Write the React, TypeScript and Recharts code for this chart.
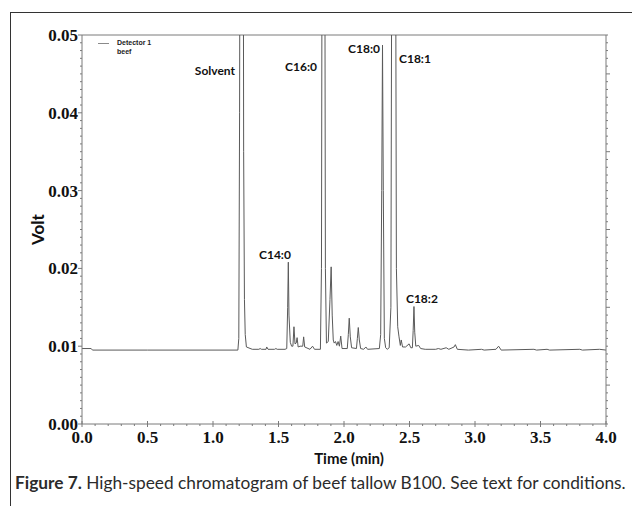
import React from 'react';
import { LineChart, Line, XAxis, YAxis, ReferenceLine, ReferenceDot, Legend, Label } from 'recharts';

// chromatogram trace (time in min, signal in volt)
const timeMin = [
  0.0, 0.07, 0.08, 0.5, 1.0, 1.19,
  1.197, 1.203, 1.207, 1.23, 1.234, 1.24, 1.246, 1.255, 1.3,
  1.35, 1.36, 1.37, 1.405, 1.41, 1.42, 1.47, 1.48, 1.49, 1.55,
  1.563, 1.57, 1.575, 1.58, 1.59, 1.6, 1.61, 1.618, 1.626, 1.635, 1.642, 1.65,
  1.665, 1.685, 1.692, 1.7, 1.74, 1.76, 1.775, 1.82,
  1.828, 1.834, 1.852, 1.858, 1.866, 1.88, 1.893, 1.902, 1.91, 1.918,
  1.925, 1.935, 1.945, 1.955, 1.965, 1.975, 1.985,
  2.025, 2.033, 2.04, 2.048, 2.058, 2.095, 2.102, 2.109, 2.117, 2.127,
  2.15, 2.167, 2.18, 2.27,
  2.28, 2.288, 2.294, 2.3, 2.308, 2.318, 2.33, 2.345,
  2.358, 2.367, 2.392, 2.4, 2.41,
  2.42, 2.43, 2.437, 2.447, 2.47, 2.497, 2.51,
  2.522, 2.528, 2.534, 2.54, 2.548, 2.57, 2.585, 2.62,
  2.7, 2.72, 2.74, 2.78, 2.8, 2.84, 2.85, 2.865, 2.95,
  3.05, 3.07, 3.16, 3.18, 3.2, 3.45, 3.47, 3.55, 3.57, 3.8, 3.82, 3.95, 4.0,
];

const volts = [
  0.0097, 0.0097, 0.0095, 0.0095, 0.0095, 0.0095,
  0.011, 0.04, 0.08, 0.08, 0.035, 0.016, 0.0115, 0.0099, 0.0096,
  0.0096, 0.0097, 0.0096, 0.0096, 0.0099, 0.0096, 0.0096, 0.0097, 0.0096, 0.0096,
  0.0097, 0.015, 0.0208, 0.014, 0.0105, 0.01, 0.01, 0.0125, 0.0103, 0.0104, 0.0111, 0.0099,
  0.01, 0.01, 0.0112, 0.0099, 0.0096, 0.01, 0.0096, 0.0096,
  0.02, 0.08, 0.08, 0.02, 0.0104, 0.0106, 0.016, 0.0202, 0.014, 0.0108,
  0.0104, 0.0106, 0.0101, 0.0106, 0.01, 0.0113, 0.0097,
  0.0097, 0.0115, 0.0136, 0.0112, 0.0098, 0.0097, 0.011, 0.0124, 0.0108, 0.0097,
  0.0096, 0.0099, 0.0096, 0.0097,
  0.0115, 0.03, 0.0487, 0.03, 0.011, 0.0098, 0.0096, 0.0098,
  0.015, 0.08, 0.08, 0.02, 0.0125,
  0.0112, 0.0101, 0.0108, 0.0099, 0.0099, 0.0103, 0.0098,
  0.0098, 0.012, 0.0151, 0.0118, 0.01, 0.0101, 0.0097, 0.0096,
  0.0096, 0.0097, 0.0096, 0.0098, 0.0096, 0.0099, 0.0102, 0.0096, 0.0095,
  0.0096, 0.0095, 0.0096, 0.01, 0.0095, 0.0096, 0.0095, 0.0096, 0.0095, 0.0096, 0.0095, 0.0096, 0.0095,
];

const xTicks = [
  0, 0.1, 0.2, 0.3, 0.4, 0.5, 0.6, 0.7, 0.8, 0.9, 1, 1.1, 1.2, 1.3, 1.4, 1.5, 1.6, 1.7, 1.8, 1.9, 2,
  2.1, 2.2, 2.3, 2.4, 2.5, 2.6, 2.7, 2.8, 2.9, 3, 3.1, 3.2, 3.3, 3.4, 3.5, 3.6, 3.7, 3.8, 3.9, 4,
];
const xMajor = [0, 0.5, 1, 1.5, 2, 2.5, 3, 3.5, 4];

const yTicks = [
  0, 0.001, 0.002, 0.003, 0.004, 0.005, 0.006, 0.007, 0.008, 0.009,
  0.01, 0.011, 0.012, 0.013, 0.014, 0.015, 0.016, 0.017, 0.018, 0.019,
  0.02, 0.021, 0.022, 0.023, 0.024, 0.025, 0.026, 0.027, 0.028, 0.029,
  0.03, 0.031, 0.032, 0.033, 0.034, 0.035, 0.036, 0.037, 0.038, 0.039,
  0.04, 0.041, 0.042, 0.043, 0.044, 0.045, 0.046, 0.047, 0.048, 0.049, 0.05,
];
const yMajor = [0, 0.01, 0.02, 0.03, 0.04, 0.05];
const yRightMajor = [0.005, 0.015, 0.025, 0.035, 0.045];

const peakNames = ['Solvent', 'C16:0', 'C18:0', 'C18:1', 'C14:0', 'C18:2'];
const peakLabelTime = [1.168, 1.794, 2.275, 2.42, 1.473, 2.595];
const peakLabelVolt = [0.0454, 0.0459, 0.0482, 0.0469, 0.0217, 0.0161];
const peakLabelSide = ['left', 'left', 'left', 'right', 'center', 'center'];

const data = timeMin.map((t, i) => ({ time: t, volt: volts[i] }));

const AXIS = '#7a7a7a';
const TRACE = '#5a5a5a';
const serif = '"Liberation Serif", "DejaVu Serif", serif';
const sans = 'Lato, "Open Sans", sans-serif';

const BottomTick = (props: any) => {
  const { x, y, payload } = props;
  const major = xMajor.includes(payload.value);
  return (
    <g>
      <line x1={x} x2={x} y1={major ? y - 3 : y} y2={major ? y + 3 : y + 2} stroke={AXIS} />
      {major && (
        <text x={x} y={y + 19} textAnchor="middle" fontFamily={serif} fontWeight={700} fontSize={17} fill="#111">
          {payload.value.toFixed(1)}
        </text>
      )}
    </g>
  );
};

const LeftTick = (props: any) => {
  const { x, y, payload } = props;
  const major = yMajor.includes(payload.value);
  return (
    <g>
      <line x1={x - (major ? 4 : 2)} x2={x} y1={y} y2={y} stroke={AXIS} />
      {major && (
        <text x={x - 4} y={y + 6} textAnchor="end" fontFamily={serif} fontWeight={700} fontSize={17} fill="#111">
          {payload.value.toFixed(2)}
        </text>
      )}
    </g>
  );
};

const RightTick = (props: any) => {
  const { x, y, payload } = props;
  const major = yRightMajor.includes(payload.value);
  return <line x1={x} x2={x + (major ? 4 : 2)} y1={y} y2={y} stroke={AXIS} />;
};

const LegendBox = () => (
  <div style={{ display: 'flex', alignItems: 'flex-start', fontFamily: '"Liberation Sans", Arial, sans-serif', fontWeight: 700, fontSize: 7, lineHeight: '9px', color: '#222' }}>
    <span style={{ display: 'inline-block', width: 11, height: 1, background: '#8a8a8a', marginTop: 5, marginRight: 8 }} />
    <div>
      <div>Detector 1</div>
      <div>beef</div>
    </div>
  </div>
);

const App: React.FC = () => {
  return (
    <div style={{ position: 'absolute', left: 0, top: 0, width: 632, height: 513, background: '#fff', overflow: 'hidden' }}>
      <div style={{ position: 'absolute', left: 10, top: 12, width: 640, height: 493, borderLeft: '1.5px solid #333', borderTop: '1.5px solid #333' }} />
      <LineChart width={632} height={513} data={data} margin={{ top: 35, right: 0, bottom: 59, left: 0 }}>
        <XAxis
          dataKey="time"
          type="number"
          domain={[0, 4]}
          ticks={xTicks}
          interval={0}
          height={30}
          tickSize={0}
          tickMargin={0}
          tick={<BottomTick />}
          axisLine={{ stroke: AXIS }}
          tickLine={false}
        >
          <Label
            content={(p: any) => (
              <text x={p.viewBox.x + p.viewBox.width / 2 + 5} y={p.viewBox.y + 40} textAnchor="middle" fontFamily={sans} fontWeight={700} fontSize={15} fill="#111">
                Time (min)
              </text>
            )}
          />
        </XAxis>
        <YAxis
          yAxisId="left"
          type="number"
          domain={[0, 0.05]}
          allowDataOverflow
          ticks={yTicks}
          interval={0}
          width={82}
          tickSize={0}
          tickMargin={0}
          tick={<LeftTick />}
          axisLine={{ stroke: AXIS }}
          tickLine={false}
        >
          <Label
            content={(p: any) => (
              <text
                x={p.viewBox.x + 37}
                y={p.viewBox.y + p.viewBox.height / 2}
                transform={`rotate(-90 ${p.viewBox.x + 37} ${p.viewBox.y + p.viewBox.height / 2})`}
                textAnchor="middle"
                dominantBaseline="central"
                fontFamily={sans}
                fontWeight={700}
                fontSize={17}
                fill="#111"
              >
                Volt
              </text>
            )}
          />
        </YAxis>
        <YAxis
          yAxisId="right"
          orientation="right"
          type="number"
          domain={[0, 0.05]}
          allowDataOverflow
          ticks={yTicks}
          interval={0}
          width={26}
          tickSize={0}
          tickMargin={0}
          tick={<RightTick />}
          axisLine={{ stroke: AXIS }}
          tickLine={false}
        />
        <ReferenceLine yAxisId="left" y={0.05} stroke={AXIS} />
        <Legend
          layout="vertical"
          verticalAlign="middle"
          align="center"
          content={<LegendBox />}
          wrapperStyle={{ position: 'absolute', left: 98, top: 38, width: 'auto', height: 'auto' }}
        />
        <Line
          yAxisId="left"
          type="linear"
          dataKey="volt"
          stroke={TRACE}
          strokeWidth={1}
          dot={false}
          isAnimationActive={false}
          legendType="line"
        />
        {peakNames.map((name, i) => (
          <ReferenceDot
            key={name}
            yAxisId="left"
            x={peakLabelTime[i]}
            y={peakLabelVolt[i]}
            r={0}
            fill="none"
            stroke="none"
            label={{
              value: name,
              position: peakLabelSide[i] as any,
              offset: 0,
              fill: '#111',
              fontFamily: sans,
              fontWeight: 700,
              fontSize: 12,
            }}
          />
        ))}
      </LineChart>
      <div style={{ position: 'absolute', left: 15, top: 472, fontFamily: sans, fontSize: 17.3, color: '#2b2b2b', whiteSpace: 'nowrap' }}>
        <b>Figure 7.</b> High-speed chromatogram of beef tallow B100. See text for conditions.
      </div>
    </div>
  );
};

export default App;
